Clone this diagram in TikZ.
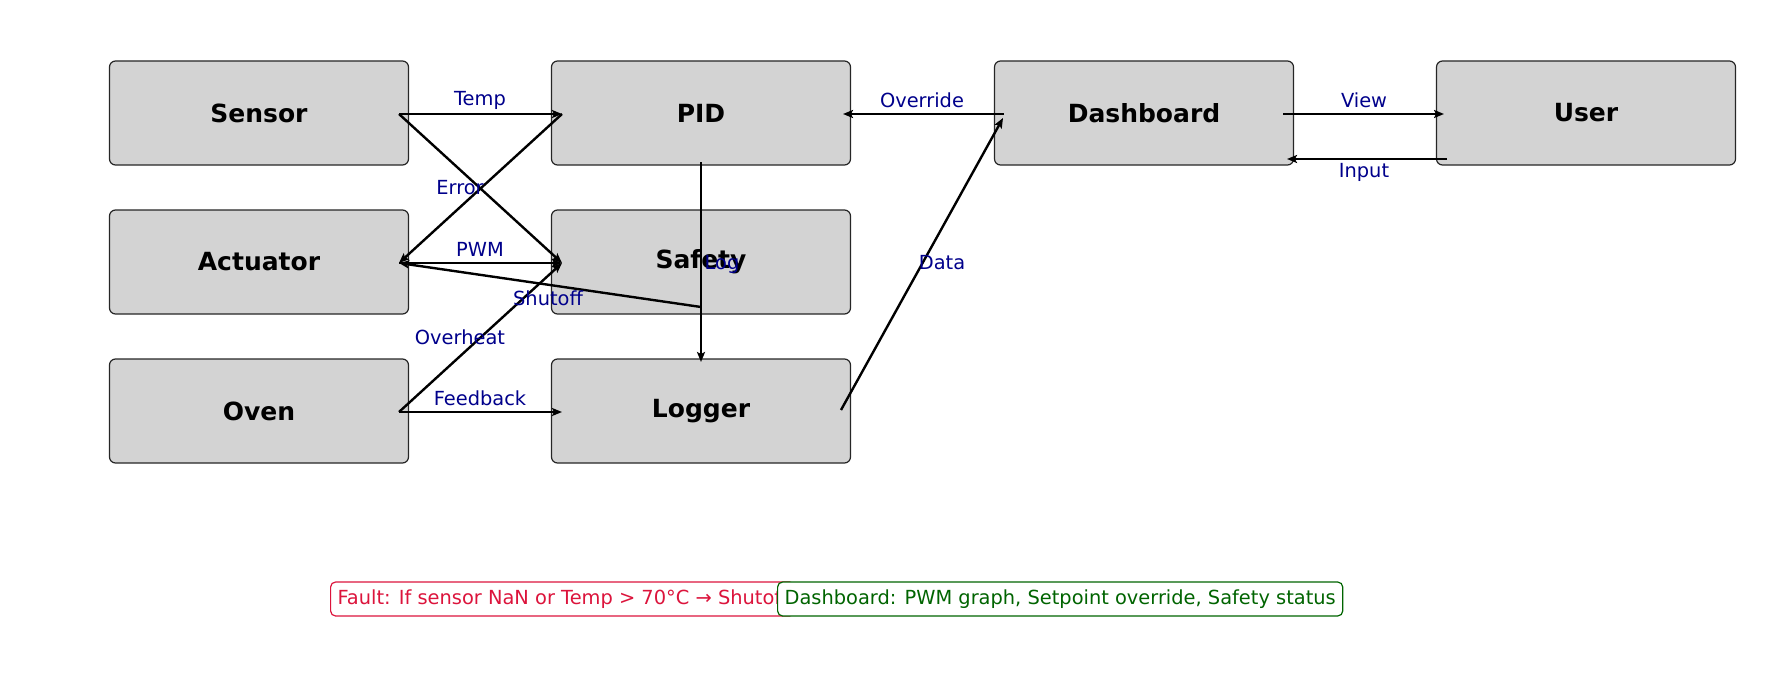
\documentclass[tikz,border=0pt]{standalone}
\usepackage{fontspec}
\setmainfont{DejaVu Sans}
\usetikzlibrary{arrows.meta,calc}
\definecolor{boxgray}{HTML}{D3D3D3}
\definecolor{lblblue}{HTML}{00008B}
\definecolor{faultred}{HTML}{DC143C}
\definecolor{okgreen}{HTML}{006400}
\tikzset{
  blockbox/.style={draw=black!85, line width=1.2pt, fill=boxgray, rounded corners=6pt,
    minimum width=299pt, minimum height=104pt, inner sep=0pt,
    font=\bfseries\fontsize{25}{28}\selectfont},
  conn/.style={line width=2.4pt, -{Stealth[length=10pt,width=8pt,inset=2pt]}},
  elabel/.style={text=lblblue, font=\fontsize{19.4}{22}\selectfont, inner sep=0pt},
  notebox/.style={rounded corners=5pt, line width=1.2pt, fill=white, inner xsep=7pt,
    minimum height=34pt, font=\fontsize{19.4}{22}\selectfont, anchor=west}
}
\begin{document}
\begin{tikzpicture}[x=1pt,y=-1pt]
\useasboundingbox (0,0) rectangle (1790,690);
% blocks
\node[blockbox] (sensor) at (259,113) {Sensor};
\node[blockbox] (pid) at (701,113) {PID};
\node[blockbox] (dash) at (1144,113) {Dashboard};
\node[blockbox] (user) at (1586,113) {User};
\node[blockbox] (act) at (259,262) {Actuator};
\node[blockbox] (safety) at (701,262) {Safety};
\node[blockbox] (oven) at (259,411) {Oven};
\node[blockbox] (logger) at (701,411) {Logger};
% connectors
\draw[conn] ($(sensor.center)+(140,1)$) -- ($(pid.center)+(-139,1)$);
\draw[conn] ($(sensor.center)+(140,1)$) -- ($(safety.center)+(-139,1)$);
\draw[conn] ($(pid.center)+(-139,1)$) -- ($(act.center)+(140,1)$);
\draw[conn] ($(act.center)+(140,1)$) -- ($(safety.center)+(-139,1)$);
\draw[conn] ($(safety.center)+(0,45)$) -- ($(act.center)+(140,1)$);
\draw[conn] ($(oven.center)+(140,1)$) -- ($(safety.center)+(-139,1)$);
\draw[conn] ($(oven.center)+(140,1)$) -- ($(logger.center)+(-139,1)$);
\draw[conn] ($(pid.center)+(0,49)$) -- ($(logger.center)+(0,-49)$);
\draw[conn] ($(logger.center)+(140,-1)$) -- ($(dash.center)+(-141,5)$);
\draw[conn] ($(dash.center)+(-140,1)$) -- ($(pid.center)+(142,1)$);
\draw[conn] ($(dash.center)+(139,1)$) -- ($(user.center)+(-142,1)$);
\draw[conn] ($(user.center)+(-139,46)$) -- ($(dash.center)+(143,46)$);
% labels
\node[elabel] (lTemp) at (480,100) {Temp};
\node[elabel] (lError) at (460,188) {Error};
\node[elabel] (lPWM) at (480,249) {PWM};
\node[elabel] (lShut) at (548,298) {Shutoff};
\node[elabel] (lOver) at (460,337) {Overheat};
\node[elabel] (lFeed) at (480,398) {Feedback};
\node[elabel] (lLog) at (722,264) {Log};
\node[elabel] (lData) at (942,263) {Data};
\node[elabel] (lOverride) at (922,100) {Override};
\node[elabel] (lView) at (1364,100) {View};
\node[elabel] (lInput) at (1364,172) {Input};
% notes
\node[notebox, draw=faultred, text=faultred] (fault) at (330,599) {Fault: If sensor NaN or Temp > 70°C → Shutoff};
\node[notebox, draw=okgreen, text=okgreen] (dnote) at (777,599) {Dashboard: PWM graph, Setpoint override, Safety status};
\end{tikzpicture}
\end{document}
